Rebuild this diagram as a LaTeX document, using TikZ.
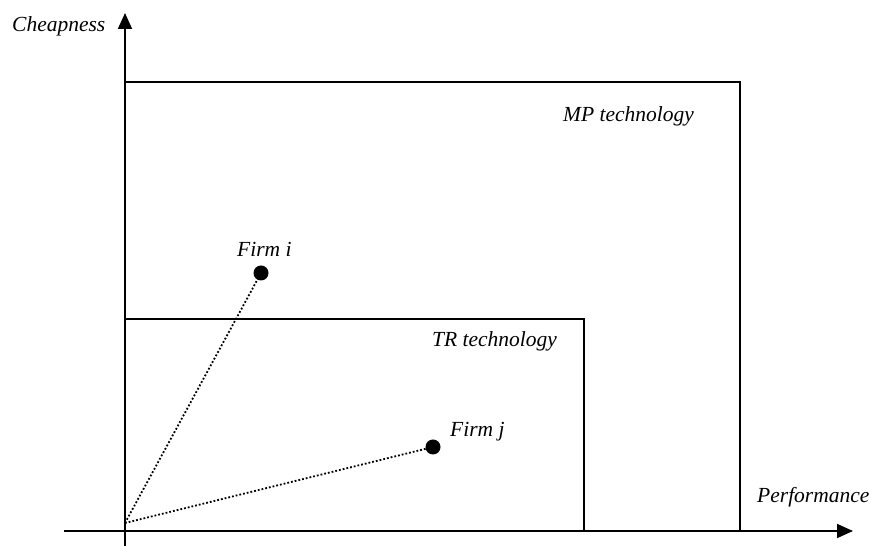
\documentclass[tikz,border=0pt]{standalone}
\usepackage{fontspec}
\setmainfont{Liberation Serif}
\usetikzlibrary{arrows.meta}
\tikzset{
  axis/.style  ={line width=1.7pt,-{Triangle[length=16pt,width=14pt]}},
  bound/.style ={line width=1.4pt},
  firm/.style  ={circle,fill,inner sep=0pt,minimum size=15pt},
  ray/.style   ={dotted,line width=1.8pt},
  lbl/.style   ={font=\fontsize{21.5}{25}\selectfont\itshape,anchor=base west,inner sep=0pt},
}

\begin{document}
\begin{tikzpicture}[x=1pt,y=1pt]
  \useasboundingbox (0,0) rectangle (871,546);
  % axes
  \coordinate (xs) at (64,15);
  \coordinate (xe) at (853,15);
  \coordinate (ys) at (125,0);
  \coordinate (ye) at (125,533);
  \draw[axis] (xs) -- (xe);
  \draw[axis] (ys) -- (ye);
  \node[lbl] (cheap) at (12,514) {Cheapness};
  \node[lbl] (perf) at (757,43) {Performance};

  % technology frontiers
  \coordinate (mptl) at (125,464);
  \coordinate (mpbr) at (740,15);
  \coordinate (trtl) at (125,227);
  \coordinate (trbr) at (584,15);
  \draw[bound] (mptl) -| (mpbr);
  \draw[bound] (trtl) -| (trbr);
  \node[lbl] (mp) at (563,424) {MP technology};
  \node[lbl] (tr) at (432,199) {TR technology};

  % firms
  \coordinate (o) at (125,23);
  \node[firm] (fi) at (261,273) {};
  \node[firm] (fj) at (433,99) {};
  \draw[ray] (o) -- (fi.center);
  \draw[ray] (o) -- (fj.center);
  \node[lbl] (fil) at (237,289) {Firm i};
  \node[lbl] (fjl) at (450,109) {Firm j};
\end{tikzpicture}
\end{document}
